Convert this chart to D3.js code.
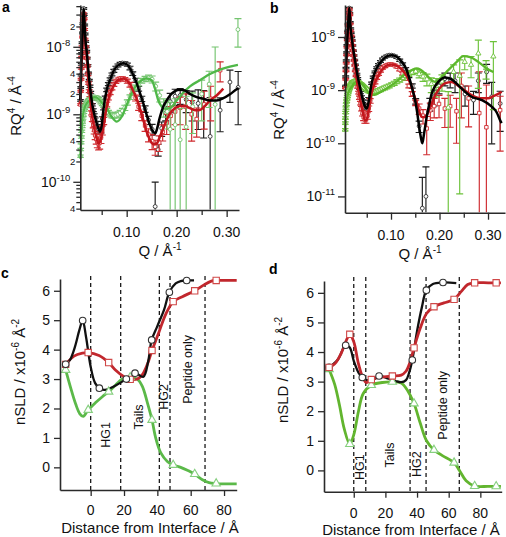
<!DOCTYPE html>
<html><head><meta charset="utf-8">
<script src="https://cdn.jsdelivr.net/npm/d3@7/dist/d3.min.js"></script>
<style>html,body{margin:0;padding:0;background:#fff}svg{display:block;font-family:"Liberation Sans",Arial,Helvetica,sans-serif}</style>
</head><body><svg id="fig" width="506" height="537"></svg>
<script>
// ================= DATA =================
// Reflectivity panels: Q in Å^-1, RQ^4 in units of 1e-9 Å^-4, errors in percent
const qa=[0.0072,0.0078,0.0085,0.0092,0.0100,0.0108,0.0116,0.0124,0.0132,0.0140,0.0149,0.0158,0.0168,0.0178,0.0189,0.0200,0.0212,0.0224,0.0237,0.0251,0.0265,0.0280,0.0296,0.0313,0.0331,0.0350,0.0370,0.0391,0.0413,0.0436,0.0460,0.0485,0.0512,0.0540,0.0570,0.0601,0.0634,0.0669,0.0705,0.0743,0.0783,0.0825,0.0869,0.0915,0.0963,0.1013,0.1066,0.1121,0.1179,0.1239,0.1302,0.1368,0.1437,0.1509];
const aBlackR=[1.6,2.5,3.8,5.5,8.0,11.5,16,22,29,37,30,21,15.5,12,10,8.6,6.8,5.3,4.1,3.2,2.6,2.1,1.7,1.38,1.15,0.97,0.83,0.74,0.66,0.6,0.56,0.58,0.85,1.25,1.75,2.3,2.8,3.3,3.9,4.4,4.9,5.3,5.6,5.75,5.7,5.45,4.85,4.0,3.2,2.4,1.7,1.2,0.82,0.6];
const aBlackErr=[3,3,3,3,3,3,3,3,3,3,3,3,3,3,3,3,3,3,3,3,4,4,4,4,5,5,6,6,7,8,9,9,8,7,6,6,5,5,5,5,5,5,5,5,5,5,6,6,7,8,9,11,14,18];
const aRedR=[1.4,2.2,3.3,4.8,7.0,10,14,19,25,31,26,18,13,10,8.2,6.8,5.2,3.9,2.9,2.2,1.75,1.35,1.05,0.85,0.70,0.58,0.49,0.43,0.39,0.37,0.38,0.45,0.58,0.80,1.1,1.4,1.75,2.1,2.45,2.75,3.05,3.25,3.35,3.4,3.3,3.1,2.75,2.25,1.75,1.3,0.95,0.68,0.5,0.4];
const aRedErr=[3,3,3,3,3,3,3,3,3,3,3,3,3,3,3,3,4,4,4,5,5,6,7,8,10,12,14,16,18,20,20,18,15,12,10,8,7,7,6,6,6,6,6,6,6,7,8,9,10,12,15,18,22,25];
const aGreenR=[0.24,0.30,0.38,0.46,0.56,0.66,0.77,0.88,0.98,1.07,1.15,1.22,1.29,1.35,1.41,1.46,1.51,1.56,1.6,1.64,1.68,1.72,1.75,1.78,1.8,1.81,1.8,1.78,1.74,1.68,1.6,1.52,1.43,1.34,1.24,1.14,1.06,1.0,0.97,0.96,0.97,1.0,1.05,1.12,1.25,1.5,1.8,2.15,2.5,2.85,3.15,3.35,3.45,3.3];
const aGreenErr=[4,4,4,4,4,4,4,4,4,4,4,4,4,4,4,4,4,4,4,4,4,4,4,4,4,4,4,5,5,5,5,6,6,6,7,7,8,8,9,9,9,9,9,9,9,9,8,8,8,8,8,9,10,12];
// high-Q (rebinned) points, panel a
const aBlackTailQ=[0.157,0.163,0.170,0.178,0.187,0.197,0.207,0.219,0.231,0.243,0.254,0.267,0.287,0.3066,0.323];
const aBlackTailR=[0.043,0.30,0.62,1.05,1.55,1.85,1.9,1.65,1.5,1.45,1.35,0.47,1.15,3.0,2.5];
const aBlackTailErr=[130,20,24,24,32,27,26,36,47,59,67,277,52,50,72];
const aRedTailQ=[0.157,0.165,0.172,0.180,0.188,0.197,0.207,0.218,0.230,0.240,0.255,0.268,0.287];
const aRedTailR=[0.33,0.38,0.55,0.75,0.95,1.1,1.25,1.3,1.0,0.85,1.4,1.7,4.5];
const aRedTailErr=[25,26,27,33,37,36,44,54,60,46,57,53,33];
const aGreenTailQ=[0.158,0.166,0.174,0.181,0.187,0.197,0.207,0.219,0.232,0.250,0.265,0.277,0.3226];
const aGreenTailR=[2.6,1.9,1.3,1.1,0.6,0.7,0.42,0.65,1.3,2.0,2.8,1.4,18];
const aGreenTailErr=[15,20,30,45,150,143,190,185,60,60,55,610,45];
// model fits, panel a  [Q, RQ^4]
const aBlackFit=[[0.0072,1.6],[0.0085,3.8],[0.0100,8.0],[0.0116,16],[0.0132,29],[0.0140,37],[0.0149,30],[0.0158,21],[0.0170,14.5],[0.0185,10.5],[0.0200,8.6],[0.0225,5.3],[0.0250,3.3],[0.0266,2.6],[0.0300,1.6],[0.0333,1.15],[0.0400,0.74],[0.0440,0.6],[0.0466,0.55],[0.0500,0.68],[0.0533,1.15],[0.0600,2.3],[0.0666,3.2],[0.0733,4.3],[0.0800,5.1],[0.0866,5.55],[0.0933,5.7],[0.1000,5.5],[0.1066,4.8],[0.1133,3.8],[0.1200,2.9],[0.1266,2.05],[0.1333,1.45],[0.1400,0.98],[0.1466,0.69],[0.1530,0.55],[0.1570,0.52],[0.1600,0.585],[0.1666,0.92],[0.1733,1.3],[0.1800,1.6],[0.1866,1.9],[0.1966,2.2],[0.2066,2.3],[0.2166,2.25],[0.2266,2.0],[0.2400,1.8],[0.2533,1.7],[0.2666,1.6],[0.2800,1.6],[0.2933,1.73],[0.3066,1.98],[0.3200,2.35],[0.3240,2.45]];
const aRedFit=[[0.0072,1.4],[0.0085,3.3],[0.0100,7.0],[0.0116,14],[0.0132,25],[0.0140,31],[0.0149,26],[0.0158,18],[0.0170,12.5],[0.0185,9.0],[0.0200,7.1],[0.0225,3.9],[0.0250,2.3],[0.0266,1.8],[0.0300,1.05],[0.0333,0.74],[0.0366,0.55],[0.0400,0.44],[0.0433,0.37],[0.0466,0.39],[0.0500,0.48],[0.0533,0.65],[0.0600,1.3],[0.0666,2.0],[0.0733,2.6],[0.0800,3.1],[0.0866,3.3],[0.0933,3.4],[0.1000,3.2],[0.1066,2.8],[0.1133,2.2],[0.1200,1.7],[0.1266,1.2],[0.1333,0.82],[0.1400,0.55],[0.1466,0.42],[0.1533,0.36],[0.1600,0.37],[0.1666,0.47],[0.1733,0.62],[0.1800,0.82],[0.1866,1.03],[0.1966,1.23],[0.2066,1.33],[0.2166,1.33],[0.2266,1.23],[0.2366,1.15],[0.2466,1.16],[0.2566,1.33],[0.2666,1.6],[0.2800,1.9],[0.2933,2.4]];
const aGreenFit=[[0.0072,0.22],[0.0085,0.36],[0.0100,0.6],[0.0116,0.85],[0.0132,1.04],[0.0166,1.3],[0.0200,1.45],[0.0266,1.62],[0.0333,1.78],[0.0366,1.8],[0.0400,1.77],[0.0466,1.6],[0.0533,1.4],[0.0600,1.23],[0.0700,0.92],[0.0800,0.78],[0.0900,0.92],[0.1000,1.37],[0.1133,2.3],[0.1266,3.05],[0.1400,3.4],[0.1500,3.2],[0.1566,2.4],[0.1633,1.6],[0.1700,1.3],[0.1766,1.2],[0.1866,1.23],[0.2000,1.6],[0.2133,2.1],[0.2266,2.6],[0.2466,3.2],[0.2666,3.95],[0.2866,4.6],[0.3066,5.1],[0.3226,5.4]];

const qb=[0.0052,0.0056,0.0060,0.0066,0.0072,0.0078,0.0085,0.0092,0.0100,0.0108,0.0116,0.0124,0.0132,0.0140,0.0149,0.0158,0.0168,0.0178,0.0189,0.0200,0.0212,0.0224,0.0237,0.0251,0.0265,0.0280,0.0296,0.0313,0.0331,0.0350,0.0370,0.0391,0.0413,0.0436,0.0460,0.0485,0.0512,0.0540,0.0570,0.0601,0.0634,0.0669,0.0705,0.0743,0.0783,0.0825,0.0869,0.0915,0.0963,0.1013,0.1066,0.1121,0.1179,0.1239,0.1302,0.1368,0.1437,0.1509];
const bBlackR=[null,null,1.2,1.8,2.6,3.6,5.1,7.0,9.6,13,17.5,23,29,35,28,19,14.5,12,10,8.6,6.9,5.5,4.5,3.7,3.0,2.45,2.0,1.65,1.35,1.1,0.9,0.74,0.62,0.53,0.48,0.46,0.5,0.68,0.98,1.35,1.75,2.2,2.65,3.05,3.45,3.85,4.15,4.4,4.55,4.55,4.4,4.1,3.65,3.1,2.5,1.85,1.2,0.62];
const bBlackErr=[3,3,3,3,3,3,3,3,3,3,3,3,3,3,3,3,3,3,3,3,3,3,3,3,3,3,4,4,4,5,5,6,6,7,8,8,8,7,6,5,5,4,4,4,4,4,4,4,4,4,4,4,5,5,6,7,9,12];
const bRedR=[null,null,1.1,1.6,2.3,3.2,4.6,6.4,8.8,12,16.5,22,28,33,26,17.5,13,10.5,8.5,7.0,5.6,4.5,3.6,2.9,2.3,1.85,1.45,1.15,0.9,0.72,0.57,0.45,0.37,0.31,0.28,0.28,0.33,0.45,0.63,0.86,1.1,1.4,1.7,2.0,2.3,2.6,2.8,2.95,3.05,3.05,2.95,2.75,2.45,2.05,1.65,1.2,0.85,0.58];
const bRedErr=[3,3,3,3,3,3,3,3,3,3,3,3,3,3,3,3,3,3,3,3,3,3,3,3,3,3,4,5,6,7,8,10,12,14,15,15,14,12,10,8,7,6,6,5,5,5,5,5,5,5,5,5,6,6,7,8,10,12];
const bGreenR=[0.18,0.24,0.3,0.38,0.46,0.54,0.62,0.69,0.76,0.83,0.9,0.97,1.03,1.09,1.15,1.2,1.25,1.3,1.34,1.38,1.41,1.43,1.45,1.46,1.47,1.46,1.44,1.42,1.39,1.35,1.3,1.25,1.2,1.15,1.1,1.05,1.0,0.96,0.93,0.9,0.9,0.92,0.95,0.98,1.02,1.06,1.1,1.15,1.2,1.27,1.35,1.45,1.55,1.7,1.85,2.0,2.15,2.25];
const bGreenErr=[5,5,5,5,5,5,5,5,5,5,5,5,5,5,5,5,5,5,5,5,6,6,6,6,6,6,6,6,6,6,7,7,7,7,7,7,7,7,7,7,8,8,8,8,8,8,8,8,8,8,9,9,9,9,9,9,9,9];
const bBlackTailQ=[0.158,0.1646,0.172,0.180,0.189,0.199,0.211,0.222,0.232,0.2526,0.270,0.280,0.297,0.3076,0.325];
const bBlackTailR=[0.21,0.006,0.010,0.55,0.75,1.2,1.65,1.6,1.5,0.85,0.65,1.5,2.2,0.75,0.56];
const bBlackTailErr=[24,280,260,27,33,29,27,31,40,41,46,40,39,87,70];
const bRedTailQ=[0.158,0.166,0.1736,0.181,0.189,0.199,0.211,0.222,0.235,0.245,0.260,0.282,0.2966,0.325];
const bRedTailR=[0.45,0.33,0.19,0.42,0.5,0.55,0.45,0.5,0.4,1.2,0.7,0.37,0.2,0.42];
const bRedTailErr=[22,30,68,36,40,45,56,60,75,75,71,500,525,83];
const bGreenTailQ=[0.158,0.166,0.174,0.183,0.193,0.205,0.218,0.229,0.2416,0.252,0.265,0.280,0.296,0.311];
const bGreenTailR=[2.0,1.8,1.6,1.3,1.2,1.45,0.47,2.2,1.86,3.4,3.0,4.9,2.6,4.3];
const bGreenTailErr=[15,19,25,31,38,34,100,36,99.4,29,43,78,38,90];
const bBlackFit=[[0.0060,1.2],[0.0072,2.6],[0.0085,5.1],[0.0100,9.6],[0.0116,17.5],[0.0132,29],[0.0140,35],[0.0149,28],[0.0160,18],[0.0175,12.5],[0.0190,10],[0.0220,6],[0.0258,3.7],[0.0300,2.1],[0.0360,1.15],[0.0420,0.65],[0.0464,0.49],[0.0500,0.45],[0.0540,0.62],[0.0600,1.34],[0.0670,2.2],[0.0738,2.95],[0.0810,3.6],[0.0876,4.1],[0.0950,4.45],[0.1014,4.55],[0.1080,4.4],[0.1150,4.0],[0.1220,3.4],[0.1290,2.75],[0.1340,2.15],[0.1390,1.54],[0.1440,1.05],[0.1495,0.65],[0.1540,0.38],[0.1580,0.204],[0.1615,0.13],[0.1645,0.1],[0.1680,0.15],[0.1736,0.315],[0.1790,0.55],[0.1840,0.87],[0.1900,1.15],[0.1975,1.43],[0.2110,1.73],[0.2250,1.6],[0.2420,1.15],[0.2660,0.75],[0.2870,0.65],[0.3076,0.49],[0.3180,0.38],[0.3250,0.27],[0.3280,0.24]];
const bRedFit=[[0.0060,1.1],[0.0072,2.3],[0.0085,4.6],[0.0100,8.8],[0.0116,16.5],[0.0132,28],[0.0140,33],[0.0149,26],[0.0160,17],[0.0175,11.5],[0.0190,8.7],[0.0220,5.0],[0.0258,2.8],[0.0300,1.4],[0.0360,0.68],[0.0420,0.38],[0.0464,0.27],[0.0500,0.28],[0.0540,0.42],[0.0600,0.87],[0.0670,1.4],[0.0738,1.9],[0.0810,2.4],[0.0876,2.75],[0.0950,3.0],[0.1014,3.05],[0.1080,2.95],[0.1150,2.75],[0.1220,2.45],[0.1290,2.06],[0.1360,1.6],[0.1426,1.15],[0.1480,0.78],[0.1529,0.56],[0.1580,0.4],[0.1630,0.315],[0.1680,0.31],[0.1736,0.34],[0.1790,0.43],[0.1840,0.56],[0.1900,0.77],[0.1975,1.0],[0.2110,1.34],[0.2250,1.43],[0.2420,1.15],[0.2660,0.81],[0.2870,0.7],[0.3000,0.7],[0.3120,0.78],[0.3250,0.89],[0.3280,0.93]];
const bGreenFit=[[0.0052,0.17],[0.0060,0.3],[0.0072,0.46],[0.0090,0.64],[0.0120,0.9],[0.0150,1.03],[0.0190,1.15],[0.0240,1.35],[0.0290,1.43],[0.0340,1.4],[0.0396,1.33],[0.0450,1.15],[0.0500,1.0],[0.0600,0.81],[0.0680,0.82],[0.0738,0.87],[0.0876,1.03],[0.1014,1.24],[0.1150,1.54],[0.1290,2.0],[0.1426,2.38],[0.1530,2.56],[0.1600,2.45],[0.1666,2.2],[0.1740,1.9],[0.1800,1.66],[0.1910,1.43],[0.2045,1.78],[0.2180,2.38],[0.2355,3.4],[0.2490,4.35],[0.2630,4.2],[0.2800,3.4],[0.2970,2.56],[0.3110,2.2]];

// nSLD profiles: distance (Å), nSLD (x1e-6 Å^-2)
const cBlackX=[-15,-12.4,-9.4,-6.8,-4.8,-2.8,0,2.6,5.2,8.6,13.6,21.4,26.6,31.6,34.5,36.6,40,44,47.2,51,54,57.6,62];
const cBlackY=[3.5,3.65,4.1,4.66,4.99,4.44,3.42,2.87,2.69,2.63,2.74,3.0,3.2,3.08,3.6,4.33,4.8,5.35,5.95,6.25,6.33,6.35,6.35];
const cBlackMarkX=[-15,-4.8,5.2,21.4,26.6,36.6,47.2,57.6];
const cBlackMarkY=[3.5,4.99,2.69,3.0,3.2,4.33,5.95,6.35];
const cRedX=[-15,-10,-5,-1.5,5,10.8,15,20,23.7,28,31,34,36.8,41,45,49.5,55,62.4,68,72,75.3,80,87.6];
const cRedY=[3.5,3.78,3.88,3.9,3.8,3.56,3.3,3.08,2.99,3.0,3.15,3.5,3.97,4.6,5.2,5.63,5.8,6.0,6.2,6.32,6.35,6.35,6.35];
const cRedMarkX=[-15,-1.5,10.8,23.7,36.8,49.5,62.4,75.3];
const cRedMarkY=[3.5,3.9,3.56,2.99,3.97,5.63,6.0,6.35];
const cGreenX=[-15,-12,-9,-6.5,-4.5,-1.5,3,7,10.8,15,19,23.7,28,31,34,36.8,39,42,46,49.5,54,58,62.4,67,71,75.3,80,87.6];
const cGreenY=[3.31,2.7,2.15,1.82,1.73,1.95,2.2,2.4,2.57,2.8,3.0,3.06,3.0,2.75,2.2,1.61,1.0,0.5,0.2,0.08,0.0,-0.1,-0.23,-0.42,-0.52,-0.55,-0.56,-0.56];
const cGreenMarkX=[-15,-1.5,10.8,23.7,36.8,49.5,62.4,75.3];
const cGreenMarkY=[3.31,1.95,2.57,3.06,1.61,0.08,-0.23,-0.55];
const cDividers=[0,18,41.2,47.6,68.6];
const cRegions=["HG1","Tails","HG2","Peptide only"];
const cRegionX=[9.0,28.4,43.4,57.8];
const cRegionY=[1.1,1.71,2.39,3.33];

const dBlackX=[-15.6,-10,-5.1,-2.5,0,3,5.4,8,12,16,22,26.4,30,33,35,37,40,43,45.9,50,56.4,64.8];
const dBlackY=[3.48,3.75,4.23,4.15,3.7,3.3,3.14,3.05,3.05,3.19,3.1,3.02,2.98,3.05,3.3,3.73,4.7,5.5,6.09,6.3,6.35,6.33];
const dBlackMarkX=[-15.6,-5.1,5.4,16,37,45.9,56.4];
const dBlackMarkY=[3.48,4.23,3.14,3.19,3.73,6.09,6.35];
const dRedX=[-15.6,-12,-8,-5,-2.5,0,3,6,8,11.1,17,24.4,30,33,35.5,38.1,42,46,50.7,57,63.4,68,72,76.4,85,93];
const dRedY=[3.48,3.6,3.95,4.35,4.6,4.35,3.6,3.1,2.97,3.07,3.15,3.19,3.22,3.35,3.65,4.14,4.8,5.3,5.53,5.66,5.78,6.05,6.28,6.34,6.34,6.34];
const dRedMarkX=[-15.6,-2.5,11.1,24.4,38.1,50.7,63.4,76.4,90];
const dRedMarkY=[3.48,4.6,3.07,3.19,4.14,5.53,5.78,6.34,6.34];
const dGreenX=[-15.6,-12,-9,-6,-2.5,0,3,6,11.1,18,24.4,30,34,38.1,42,46,50.7,56,63.4,67,71,76.4,85,93];
const dGreenY=[3.42,2.9,2.2,1.4,0.89,1.2,2.0,2.6,2.88,2.97,2.99,2.95,2.7,2.26,1.6,1.0,0.69,0.5,0.26,-0.02,-0.35,-0.53,-0.54,-0.54];
const dGreenMarkX=[-15.6,-2.5,11.1,24.4,38.1,50.7,63.4,76.4,90];
const dGreenMarkY=[3.42,0.89,2.88,2.99,2.26,0.69,0.26,-0.53,-0.54];
const dDividers=[0,7.6,35.6,45.7,66.7];
const dRegions=["HG1","Tails","HG2","Peptide only"];
const dRegionX=[3.5,22.7,39.6,56.4];
const dRegionY=[0.11,0.52,0.21,2.2];

const qTicks=[0.1,0.2,0.3], qMinorTicks=[0.05,0.15,0.25];
const sldTicks=[0,1,2,3,4,5,6], distTicks=[0,20,40,60,80];

// ================= DRAWING =================
const svg=d3.select('#fig');
const defs=svg.append('defs');
const AX='#2a2a2a';
const COL={black:'#000',blackBar:'#1c1c1c',red:'#c3161d',redBar:'#cf2a2f',greenA:'#4fb848',greenABar:'#74c46f',greenB:'#5cb82c',greenBBar:'#6cc23a'};

function rich(g,parts,size,supSize,rise){
  const t=g.append('text').attr('font-size',size).attr('fill','#111');
  let up=false;
  parts.forEach(p=>{
    const ts=t.append('tspan').text(p[0]);
    if(p[1]){ts.attr('font-size',supSize); if(!up){ts.attr('dy',-rise);up=true;}}
    else if(up){ts.attr('dy',rise);up=false;}
  });
  return t;
}
function styleAxis(a){
  a.selectAll('.domain').attr('stroke',AX).attr('stroke-width',1.6);
  a.selectAll('.tick line').attr('stroke',AX).attr('stroke-width',1.3);
}

function reflPanel(o){
  const x=d3.scaleLinear().domain(o.xDom).range(o.xRng);
  const y=d3.scaleLog().domain(o.yDom).range(o.yRng);
  const g=svg.append('g');
  defs.append('clipPath').attr('id','clip-'+o.id).append('rect')
    .attr('x',o.xRng[0]-3).attr('y',o.yRng[1]-3).attr('width',o.xRng[1]-o.xRng[0]+6).attr('height',o.yRng[0]-o.yRng[1]+2.5);
  const plot=g.append('g').attr('clip-path',`url(#clip-${o.id})`);
  const yBot=o.yRng[0]+3;
  o.series.forEach(s=>{
    const pts=s.q.map((q,i)=>({q,r:s.r[i],p:s.pct[i]})).filter(d=>d.r!=null);
    pts.forEach(d=>{d.hi=d.r*(1+d.p/100);d.lo=d.r*(1-d.p/100);d.hasLo=d.lo>o.yDom[0];});
    const eg=plot.append('g').attr('stroke',s.bar).attr('stroke-width',1.15);
    const gg=eg.selectAll('g').data(pts).join('g');
    gg.append('line').attr('x1',d=>x(d.q)).attr('x2',d=>x(d.q)).attr('y1',d=>y(d.hi)).attr('y2',d=>d.hasLo?y(d.lo):yBot);
    gg.append('line').attr('x1',d=>x(d.q)-o.cap).attr('x2',d=>x(d.q)+o.cap).attr('y1',d=>y(d.hi)).attr('y2',d=>y(d.hi));
    gg.filter(d=>d.hasLo).append('line').attr('x1',d=>x(d.q)-o.cap).attr('x2',d=>x(d.q)+o.cap).attr('y1',d=>y(d.lo)).attr('y2',d=>y(d.lo));
    plot.append('g').selectAll('path').data(pts).join('path')
      .attr('transform',d=>`translate(${x(d.q)},${y(d.r)})`)
      .attr('d',d3.symbol().type(s.sym).size(s.size))
      .attr('fill','#fff').attr('stroke',s.mk).attr('stroke-width',0.9);
  });
  const line=d3.line().x(d=>x(d[0])).y(d=>y(d[1])).curve(d3.curveMonotoneX);
  o.fits.forEach(f=>plot.append('path').datum(f.pts).attr('d',line).attr('fill','none').attr('stroke',f.color).attr('stroke-width',f.w).attr('stroke-linejoin','round'));
  // axes
  const ya=g.append('g').attr('transform',`translate(${o.xRng[0]},0)`)
    .call(d3.axisLeft(y).tickValues(o.yMajor).tickSize(7).tickSizeOuter(0).tickFormat(''));
  styleAxis(ya);
  if(o.yMinor.length){
    const ym=g.append('g').attr('transform',`translate(${o.xRng[0]},0)`)
      .call(d3.axisLeft(y).tickValues(o.yMinor).tickSize(4).tickFormat(''));
    ym.select('.domain').remove(); styleAxis(ym);
  }
  const xa=g.append('g').attr('transform',`translate(0,${o.yRng[0]})`)
    .call(d3.axisBottom(x).tickValues(qTicks).tickSize(7).tickSizeOuter(0).tickFormat(''));
  styleAxis(xa);
  const xm=g.append('g').attr('transform',`translate(0,${o.yRng[0]})`)
    .call(d3.axisBottom(x).tickValues(qMinorTicks).tickSize(5).tickFormat(''));
  xm.select('.domain').remove(); styleAxis(xm);
  // tick labels
  o.yMajor.forEach(v=>{
    const e=Math.round(Math.log10(v))-9;
    rich(g,[['10',false],[String(e),true]],14,9.5,6).attr('x',o.xRng[0]-10).attr('y',y(v)+5).attr('text-anchor','end');
  });
  (o.yMinorLabels||[]).forEach(([v,s])=>{
    g.append('text').attr('x',o.xRng[0]-5).attr('y',y(v)+3.2).attr('text-anchor','end').attr('font-size',9.5).attr('fill','#111').text(s);
  });
  qTicks.forEach(v=>g.append('text').attr('x',x(v)).attr('y',o.xLabY).attr('text-anchor','middle').attr('font-size',14).attr('fill','#111').text(d3.format('.2f')(v)));
  // titles
  rich(g,[['RQ',false],['4',true],[' / Å',false],['-4',true]],15,10,6)
    .attr('text-anchor','middle').attr('transform',`translate(${o.yTitle[0]},${o.yTitle[1]}) rotate(-90)`);
  rich(g,[['Q / Å',false],['-1',true]],15,10,6).attr('text-anchor','middle').attr('x',o.xTitle[0]).attr('y',o.xTitle[1]);
  g.append('text').attr('x',o.letter[0]).attr('y',o.letter[1]).attr('font-size',14).attr('font-weight','bold').text(o.id);
}

function minorLog(lo,hi){const out=[];for(let e=-3;e<=2;e++){for(let m=2;m<=9;m++){const v=m*Math.pow(10,e);if(v>=lo&&v<=hi)out.push(v);}}return out;}

reflPanel({id:'a',xDom:[0.0072,0.3247],xRng:[80.3,239],yDom:[0.0382,41.6],yRng:[210,5],cap:3.5,
  yMajor:[0.1,1,10],yMinor:minorLog(0.0382,41.6),
  yMinorLabels:[[0.04,'4'],[0.2,'2'],[0.4,'4'],[2,'2'],[4,'4'],[20,'2']],
  xLabY:237,yTitle:[20.5,106],xTitle:[160,256],letter:[2,12],
  series:[
    {q:qa.concat(aBlackTailQ),r:aBlackR.concat(aBlackTailR),pct:aBlackErr.concat(aBlackTailErr),bar:COL.blackBar,mk:'#333',sym:d3.symbolCircle,size:12},
    {q:qa.concat(aRedTailQ),r:aRedR.concat(aRedTailR),pct:aRedErr.concat(aRedTailErr),bar:COL.redBar,mk:COL.redBar,sym:d3.symbolSquare,size:12},
    {q:qa.concat(aGreenTailQ),r:aGreenR.concat(aGreenTailR),pct:aGreenErr.concat(aGreenTailErr),bar:COL.greenABar,mk:COL.greenABar,sym:d3.symbolCircle,size:12}
  ],
  fits:[{pts:aGreenFit,color:COL.greenA,w:2.3},{pts:aRedFit,color:COL.red,w:2.5},{pts:aBlackFit,color:COL.black,w:2.5}]
});

reflPanel({id:'b',xDom:[0.00515,0.335],xRng:[345,505],yDom:[0.00494,40],yRng:[212.7,5],cap:3.5,
  yMajor:[0.01,0.1,1,10],yMinor:[],
  xLabY:240,yTitle:[283.5,110],xTitle:[420,259],letter:[270,13],
  series:[
    {q:qb.concat(bBlackTailQ),r:bBlackR.concat(bBlackTailR),pct:bBlackErr.concat(bBlackTailErr),bar:COL.blackBar,mk:'#333',sym:d3.symbolCircle,size:12},
    {q:qb.concat(bRedTailQ),r:bRedR.concat(bRedTailR),pct:bRedErr.concat(bRedTailErr),bar:COL.redBar,mk:COL.redBar,sym:d3.symbolSquare,size:12},
    {q:qb.concat(bGreenTailQ),r:bGreenR.concat(bGreenTailR),pct:bGreenErr.concat(bGreenTailErr),bar:COL.greenBBar,mk:COL.greenBBar,sym:d3.symbolTriangle,size:12}
  ],
  fits:[{pts:bGreenFit,color:COL.greenB,w:2.3},{pts:bRedFit,color:COL.red,w:2.5},{pts:bBlackFit,color:COL.black,w:2.5}]
});

function profPanel(o){
  const x=d3.scaleLinear().domain(o.xDom).range(o.xRng);
  const y=d3.scaleLinear().domain(o.yDom).range(o.yRng);
  const g=svg.append('g');
  g.append('g').selectAll('line').data(o.dividers).join('line')
    .attr('x1',d=>x(d)).attr('x2',d=>x(d)).attr('y1',o.dashTop).attr('y2',o.yRng[0])
    .attr('stroke','#1a1a1a').attr('stroke-width',1.3).attr('stroke-dasharray','4,3');
  o.regions.forEach((r,i)=>{
    g.append('text').attr('transform',`translate(${x(o.regionX[i])+4.5},${y(o.regionY[i])}) rotate(-90)`)
      .attr('text-anchor','middle').attr('font-size',12.5).attr('fill','#111').text(r);
  });
  const line=d3.line().x(d=>x(d[0])).y(d=>y(d[1])).curve(d3.curveCatmullRom.alpha(0.5));
  o.curves.forEach(c=>{
    g.append('path').datum(c.lx.map((v,i)=>[v,c.ly[i]])).attr('d',line)
      .attr('fill','none').attr('stroke',c.color).attr('stroke-width',c.w).attr('stroke-linejoin','round');
  });
  o.curves.forEach(c=>{
    g.append('g').selectAll('path').data(c.mx.map((v,i)=>[v,c.my[i]])).join('path')
      .attr('transform',d=>`translate(${x(d[0])},${y(d[1])})`)
      .attr('d',d3.symbol().type(c.sym).size(c.size))
      .attr('fill','#fff').attr('stroke',c.mk).attr('stroke-width',1.1);
  });
  const ya=g.append('g').attr('transform',`translate(${o.xRng[0]},0)`)
    .call(d3.axisLeft(y).tickValues(sldTicks).tickSize(6).tickSizeOuter(0).tickFormat(''));
  styleAxis(ya);
  const xa=g.append('g').attr('transform',`translate(0,${o.yRng[0]})`)
    .call(d3.axisBottom(x).tickValues(distTicks).tickSize(6).tickSizeOuter(0).tickFormat(''));
  styleAxis(xa);
  sldTicks.forEach(v=>g.append('text').attr('x',o.xRng[0]-10).attr('y',y(v)+5).attr('text-anchor','end').attr('font-size',14).attr('fill','#111').text(v));
  distTicks.forEach(v=>g.append('text').attr('x',x(v)).attr('y',o.xLabY).attr('text-anchor','middle').attr('font-size',14).attr('fill','#111').text(v));
  rich(g,[['nSLD / x10',false],['-6',true],[' Å',false],['-2',true]],15,10,6)
    .attr('text-anchor','middle').attr('transform',`translate(${o.yTitle[0]},${o.yTitle[1]}) rotate(-90)`);
  g.append('text').attr('x',o.xTitle[0]).attr('y',o.xTitle[1]).attr('text-anchor','middle').attr('font-size',15).attr('fill','#111').text('Distance from Interface / Å');
  g.append('text').attr('x',o.letter[0]).attr('y',o.letter[1]).attr('font-size',14).attr('font-weight','bold').text(o.id);
}

const mkBlack={sym:d3.symbolCircle,size:34,mk:'#333'};
const mkRed={sym:d3.symbolSquare,size:40,mk:'#d04848'};
const mkGreen={sym:d3.symbolTriangle,size:30,mk:'#86cf7f'};

profPanel({id:'c',xDom:[-18.4,87.6],xRng:[60,236.7],yDom:[-0.77,6.4],yRng:[490,279],dashTop:276,
  dividers:cDividers,regions:cRegions,regionX:cRegionX,regionY:cRegionY,
  xLabY:515,yTitle:[25,372],xTitle:[150,533],letter:[1,278],
  curves:[
    Object.assign({lx:cGreenX,ly:cGreenY,mx:cGreenMarkX,my:cGreenMarkY,color:'#5bb949',w:2.8},mkGreen),
    Object.assign({lx:cRedX,ly:cRedY,mx:cRedMarkX,my:cRedMarkY,color:'#c1272d',w:2.8},mkRed),
    Object.assign({lx:cBlackX,ly:cBlackY,mx:cBlackMarkX,my:cBlackMarkY,color:'#111',w:2.3},mkBlack)
  ]});

profPanel({id:'d',xDom:[-18.8,93.5],xRng:[324,501.7],yDom:[-0.72,6.4],yRng:[491.7,281],dashTop:277,
  dividers:dDividers,regions:dRegions,regionX:dRegionX,regionY:dRegionY,
  xLabY:518,yTitle:[288,370],xTitle:[411,535],letter:[269,274],
  curves:[
    Object.assign({lx:dGreenX,ly:dGreenY,mx:dGreenMarkX,my:dGreenMarkY,color:'#62b52f',w:2.8},mkGreen),
    Object.assign({lx:dBlackX,ly:dBlackY,mx:dBlackMarkX,my:dBlackMarkY,color:'#111',w:2.3},mkBlack),
    Object.assign({lx:dRedX,ly:dRedY,mx:dRedMarkX,my:dRedMarkY,color:'#c1272d',w:2.8},mkRed)
  ]});
</script></body></html>
